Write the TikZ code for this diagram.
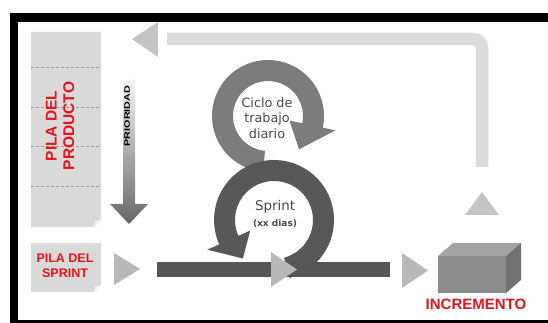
\documentclass[tikz,border=0pt]{standalone}
\usepackage{fontspec}
\setmainfont{Liberation Sans}
\newfontfamily\ringfont{DejaVu Sans}
\usetikzlibrary{calc}

\definecolor{boxgray}{HTML}{D9D9D9}
\definecolor{foldgray}{HTML}{EFEFEF}
\definecolor{bandgray}{HTML}{DCDCDC}
\definecolor{headgray}{HTML}{C4C4C4}
\definecolor{trigray}{HTML}{B8B8B8}
\definecolor{ringup}{HTML}{7C7C7C}
\definecolor{ringlow}{HTML}{585858}
\definecolor{bargray}{HTML}{565656}
\definecolor{arrowdark}{HTML}{666666}
\definecolor{labelred}{HTML}{E8141C}
\definecolor{ringtextgray}{HTML}{4A4A4A}
\definecolor{cubefront}{HTML}{8C8C8C}
\definecolor{cubetop}{HTML}{A3A3A3}
\definecolor{cubeside}{HTML}{727272}

\tikzset{
  redlabel/.style 2 args={text=labelred, align=center, inner sep=0pt,
    font=\bfseries\fontsize{#1}{#2}\selectfont},
  ringtext/.style 2 args={text=ringtextgray, align=center, inner sep=0pt,
    font=\ringfont\fontsize{#1}{#2}\selectfont},
  rowline/.style={draw=gray!75, line width=0.7pt, dash pattern=on 3pt off 2pt},
  flowtri/.style={fill=trigray},
}

\begin{document}
\begin{tikzpicture}[x=1pt,y=1pt]
\useasboundingbox (0,0) rectangle (548,323);
\fill[white] (0,0) rectangle (548,323);

% black frame
\fill[black] (10,301) rectangle (548,310);
\fill[black] (10,0) rectangle (18,310);
\fill[black] (10,0) rectangle (548,2.5);

% product backlog sheet
\fill[boxgray] (31,96) -- (94,96) -- (101,103) -- (101,291) -- (31,291) -- cycle;
\fill[foldgray] (94,96) -- (101,103) -- (95,102) -- cycle;
\foreach \yy in {256,216,177,137}
  \draw[rowline] (31,\yy) -- (101,\yy);
\node[redlabel={15.5}{17.5}, rotate=90] (pilaproducto) at (60,197) {PILA DEL\\PRODUCTO};

% sprint backlog sheet
\fill[boxgray] (31,31) -- (94,31) -- (101,38) -- (101,80) -- (31,80) -- cycle;
\fill[foldgray] (94,31) -- (101,38) -- (95,37) -- cycle;
\node[redlabel={12.5}{15.5}] (pilasprint) at (65,57) {PILA DEL\\SPRINT};

% priority arrow with gradient
\shade[top color=gray!8, bottom color=arrowdark]
  (123,243) -- (135,243) -- (135,119) -- (148,119) -- (129,99)
  -- (110,119) -- (123,119) -- cycle;
\node[rotate=90, inner sep=0pt, font=\bfseries\fontsize{8}{8}\selectfont]
  (prioridad) at (127,207) {\scalebox{1.35}[1]{PRIORIDAD}};

% return arrow from the increment back to the product backlog
\draw[bandgray, line width=12.5pt, rounded corners=9pt]
  (482,156) -- (482,284) -- (167,284);
\fill[headgray] (132,284) -- (158,301) -- (158,266) -- cycle;
\fill[headgray] (482,131) -- (499,108) -- (465,108) -- cycle;

% daily cycle ring
\begin{scope}[shift={(268,207)}]
  \fill[ringup] (265:56) arc[start angle=265, end angle=-12, radius=56]
    -- (-12:69) -- (-47:45.5) -- (-12:22) -- (-12:35)
    arc[start angle=-12, end angle=265, radius=35] -- cycle;
\end{scope}

% sprint ring
\begin{scope}[shift={(274,103)}]
  \fill[ringlow] (-75:60) arc[start angle=-75, end angle=204, radius=60]
    -- (204:73) -- (231:49.5) -- (204:26) -- (204:39)
    arc[start angle=204, end angle=-75, radius=39] -- cycle;
\end{scope}

% sprint bar and flow triangles
\fill[bargray] (157,46) rectangle (390,61);
\fill[flowtri] (114,38) -- (140,54) -- (114,70) -- cycle;
\fill[flowtri] (271,36) -- (297,53.5) -- (271,71) -- cycle;
\fill[flowtri] (402,35) -- (428,52.5) -- (402,70) -- cycle;

% ring labels
\node[ringtext={12.8}{15.5}] (ciclo) at (267,205) {Ciclo de\\trabajo\\diario};
\node[ringtext={13.4}{15}] (sprint) at (275,116) {Sprint};
\node[text=ringtextgray, inner sep=0pt,
  font=\ringfont\bfseries\fontsize{9}{10}\selectfont] (dias) at (275,99) {(xx dias)};

% increment cube
\fill[cubefront] (438,30) rectangle (506,67);
\fill[cubetop] (438,67) -- (453,80) -- (521,80) -- (506,67) -- cycle;
\fill[cubeside] (506,30) -- (521,43) -- (521,80) -- (506,67) -- cycle;
\node[redlabel={15}{17}] (incremento) at (476,18.5) {INCREMENTO};
\end{tikzpicture}
\end{document}
